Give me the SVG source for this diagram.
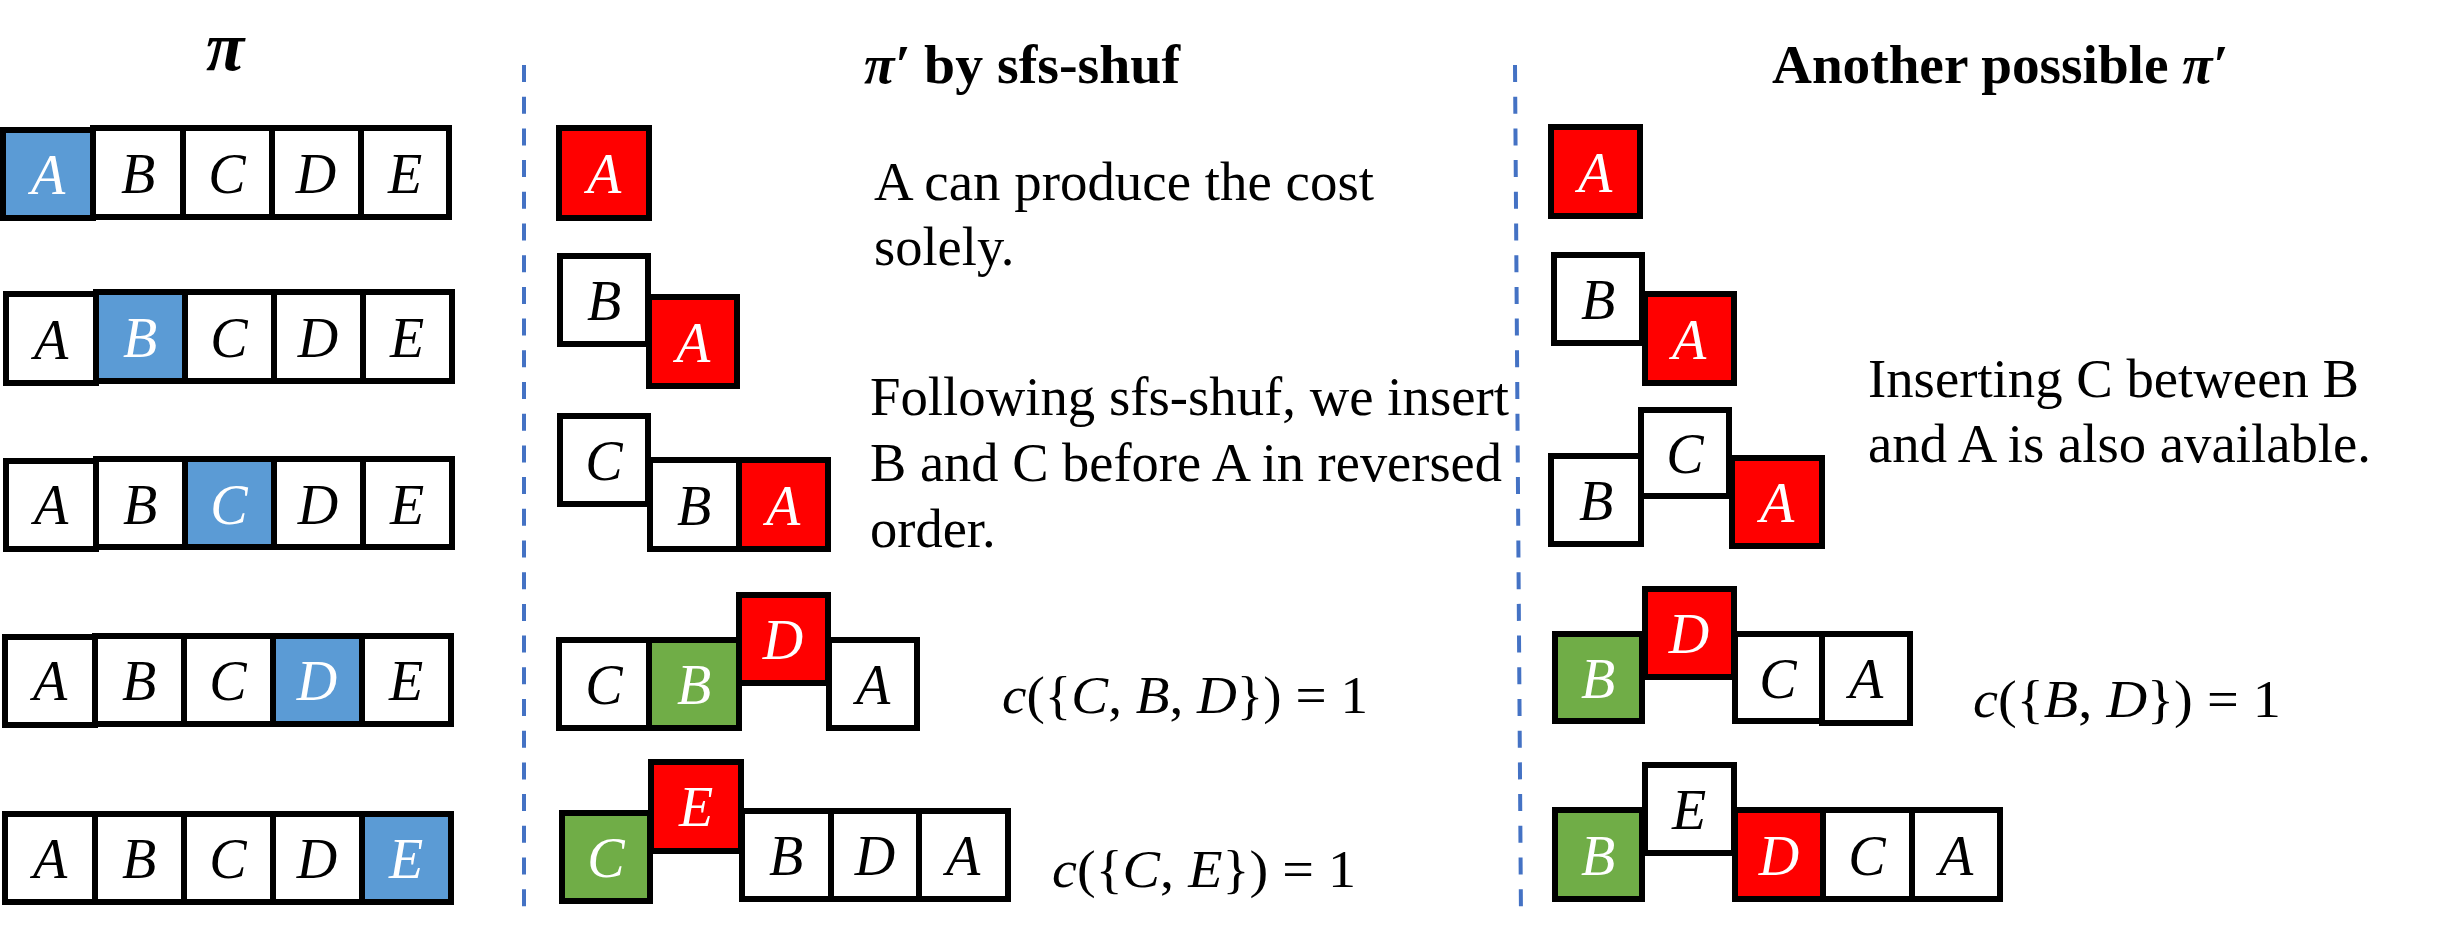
<svg xmlns="http://www.w3.org/2000/svg" width="2439" height="934" viewBox="0 0 2439 934">
<style>
.c{stroke:#000;stroke-width:6}
.w{fill:#fff}.r{fill:#ff0000}.g{fill:#70ad47}.b{fill:#5b9bd5}
.l{font-family:"Liberation Serif","DejaVu Serif",serif;font-style:italic;font-size:56px;text-anchor:middle}
.k{fill:#000}.wt{fill:#fff}
.t{font-family:"Liberation Serif","DejaVu Serif",serif;font-size:54.5px;fill:#000}
.h{font-family:"Liberation Serif","DejaVu Serif",serif;font-size:54px;font-weight:bold;fill:#000}
.f{font-family:"Liberation Serif","DejaVu Serif",serif;font-size:52px;fill:#000}
.i{font-style:italic}
.div{stroke:#4472c4;stroke-width:4;stroke-dasharray:17 14.7;fill:none}
</style>
<rect width="2439" height="934" fill="#fff"/>
<g id="dividers">
<line class="div" x1="524" y1="65" x2="524" y2="918"/>
<line class="div" x1="1515" y1="65" x2="1521" y2="918"/>
</g>
<g id="connectors"/>
<g id="titles">
<text class="h i" x="225" y="70" text-anchor="middle" style="font-size:70px">π</text>
<text class="h" x="864" y="83" textLength="316" lengthAdjust="spacingAndGlyphs"><tspan class="i">π′</tspan> by sfs-shuf</text>
<text class="h" x="1772" y="83" textLength="456" lengthAdjust="spacingAndGlyphs">Another possible <tspan class="i">π′</tspan></text>
</g>
<g id="notes">
<text class="t" x="874" y="200" textLength="500" lengthAdjust="spacingAndGlyphs">A can produce the cost</text>
<text class="t" x="874" y="265">solely.</text>
<text class="t" x="870" y="415" textLength="639" lengthAdjust="spacingAndGlyphs">Following sfs-shuf, we insert</text>
<text class="t" x="870" y="481" textLength="632" lengthAdjust="spacingAndGlyphs">B and C before A in reversed</text>
<text class="t" x="870" y="547">order.</text>
<text class="t" x="1868" y="397" textLength="491" lengthAdjust="spacingAndGlyphs">Inserting C between B</text>
<text class="t" x="1868" y="462" textLength="503" lengthAdjust="spacingAndGlyphs">and A is also available.</text>
<text class="f" x="1002" y="713" textLength="366" lengthAdjust="spacingAndGlyphs"><tspan class="i">c</tspan>({<tspan class="i">C</tspan>, <tspan class="i">B</tspan>, <tspan class="i">D</tspan>}) = 1</text>
<text class="f" x="1052" y="887" textLength="304" lengthAdjust="spacingAndGlyphs"><tspan class="i">c</tspan>({<tspan class="i">C</tspan>, <tspan class="i">E</tspan>}) = 1</text>
<text class="f" x="1973" y="717" textLength="308" lengthAdjust="spacingAndGlyphs"><tspan class="i">c</tspan>({<tspan class="i">B</tspan>, <tspan class="i">D</tspan>}) = 1</text>
</g>
<!-- Left column: pi -->
<g id="pi-row1">
<rect class="c w" x="93" y="128" width="90" height="89"/><text class="l k" x="138" y="193">B</text>
<rect class="c w" x="183" y="128" width="89" height="89"/><text class="l k" x="227" y="193">C</text>
<rect class="c w" x="272" y="128" width="89" height="89"/><text class="l k" x="316" y="193">D</text>
<rect class="c w" x="361" y="128" width="88" height="89"/><text class="l k" x="405" y="193">E</text>
<rect class="c b" x="3" y="130" width="90" height="88"/><text class="l wt" x="48" y="194">A</text>
</g>
<g id="pi-row2">
<rect class="c w" x="6" y="294" width="90" height="89"/><text class="l k" x="51" y="359">A</text>
<rect class="c b" x="96" y="292" width="89" height="89"/><text class="l wt" x="140" y="357">B</text>
<rect class="c w" x="185" y="292" width="89" height="89"/><text class="l k" x="229" y="357">C</text>
<rect class="c w" x="274" y="292" width="89" height="89"/><text class="l k" x="318" y="357">D</text>
<rect class="c w" x="363" y="292" width="89" height="89"/><text class="l k" x="407" y="357">E</text>
</g>
<g id="pi-row3">
<rect class="c w" x="6" y="461" width="90" height="88"/><text class="l k" x="51" y="524">A</text>
<rect class="c w" x="96" y="459" width="89" height="88"/><text class="l k" x="140" y="524">B</text>
<rect class="c b" x="185" y="459" width="89" height="88"/><text class="l wt" x="229" y="524">C</text>
<rect class="c w" x="274" y="459" width="89" height="88"/><text class="l k" x="318" y="524">D</text>
<rect class="c w" x="363" y="459" width="89" height="88"/><text class="l k" x="407" y="524">E</text>
</g>
<g id="pi-row4">
<rect class="c w" x="5" y="637" width="90" height="88"/><text class="l k" x="50" y="700">A</text>
<rect class="c w" x="95" y="636" width="89" height="88"/><text class="l k" x="139" y="700">B</text>
<rect class="c w" x="184" y="636" width="89" height="88"/><text class="l k" x="228" y="700">C</text>
<rect class="c b" x="273" y="636" width="89" height="88"/><text class="l wt" x="317" y="700">D</text>
<rect class="c w" x="362" y="636" width="89" height="88"/><text class="l k" x="406" y="700">E</text>
</g>
<g id="pi-row5">
<rect class="c w" x="5" y="814" width="90" height="88"/><text class="l k" x="50" y="878">A</text>
<rect class="c w" x="95" y="814" width="89" height="88"/><text class="l k" x="139" y="878">B</text>
<rect class="c w" x="184" y="814" width="89" height="88"/><text class="l k" x="228" y="878">C</text>
<rect class="c w" x="273" y="814" width="89" height="88"/><text class="l k" x="317" y="878">D</text>
<rect class="c b" x="362" y="814" width="89" height="88"/><text class="l wt" x="406" y="878">E</text>
</g>
<!-- Middle column -->
<g id="sfs-row1">
<rect class="c r" x="559" y="128" width="90" height="90"/><text class="l wt" x="604" y="193">A</text>
</g>
<g id="sfs-row2">
<rect class="c w" x="560" y="256" width="88" height="88"/><text class="l k" x="604" y="320">B</text>
<rect class="c r" x="649" y="297" width="88" height="89"/><text class="l wt" x="693" y="362">A</text>
</g>
<g id="sfs-row3">
<rect class="c w" x="560" y="416" width="88" height="88"/><text class="l k" x="604" y="480">C</text>
<rect class="c w" x="650" y="460" width="89" height="89"/><text class="l k" x="694" y="525">B</text>
<rect class="c r" x="739" y="460" width="89" height="89"/><text class="l wt" x="783" y="525">A</text>
</g>
<g id="sfs-row4">
<rect class="c w" x="559" y="640" width="90" height="88"/><text class="l k" x="604" y="704">C</text>
<rect class="c g" x="649" y="640" width="90" height="88"/><text class="l wt" x="694" y="704">B</text>
<rect class="c w" x="829" y="640" width="88" height="88"/><text class="l k" x="873" y="704">A</text>
<rect class="c r" x="739" y="595" width="89" height="88"/><text class="l wt" x="783" y="659">D</text>
</g>
<g id="sfs-row5">
<rect class="c g" x="562" y="813" width="88" height="88"/><text class="l wt" x="606" y="877">C</text>
<rect class="c w" x="742" y="811" width="89" height="88"/><text class="l k" x="786" y="875">B</text>
<rect class="c w" x="831" y="811" width="88" height="88"/><text class="l k" x="875" y="875">D</text>
<rect class="c w" x="919" y="811" width="89" height="88"/><text class="l k" x="963" y="875">A</text>
<rect class="c r" x="651" y="762" width="90" height="89"/><text class="l wt" x="696" y="826">E</text>
</g>
<!-- Right column -->
<g id="alt-row1">
<rect class="c r" x="1551" y="127" width="89" height="89"/><text class="l wt" x="1595" y="192">A</text>
</g>
<g id="alt-row2">
<rect class="c w" x="1554" y="255" width="88" height="88"/><text class="l k" x="1598" y="319">B</text>
<rect class="c r" x="1645" y="294" width="89" height="89"/><text class="l wt" x="1689" y="359">A</text>
</g>
<g id="alt-row3">
<rect class="c w" x="1641" y="410" width="88" height="86"/><text class="l k" x="1685" y="473">C</text>
<rect class="c w" x="1551" y="456" width="90" height="88"/><text class="l k" x="1596" y="520">B</text>
<rect class="c r" x="1732" y="458" width="90" height="88"/><text class="l wt" x="1777" y="522">A</text>
</g>
<g id="alt-row4">
<rect class="c g" x="1555" y="634" width="87" height="87"/><text class="l wt" x="1598" y="698">B</text>
<rect class="c w" x="1735" y="634" width="87" height="87"/><text class="l k" x="1778" y="698">C</text>
<rect class="c w" x="1822" y="634" width="88" height="89"/><text class="l k" x="1866" y="698">A</text>
<rect class="c r" x="1645" y="589" width="89" height="88"/><text class="l wt" x="1689" y="653">D</text>
</g>
<g id="alt-row5">
<rect class="c g" x="1555" y="810" width="87" height="89"/><text class="l wt" x="1598" y="875">B</text>
<rect class="c w" x="1645" y="765" width="89" height="88"/><text class="l k" x="1689" y="829">E</text>
<rect class="c r" x="1735" y="810" width="88" height="89"/><text class="l wt" x="1779" y="875">D</text>
<rect class="c w" x="1823" y="810" width="89" height="89"/><text class="l k" x="1867" y="875">C</text>
<rect class="c w" x="1912" y="810" width="88" height="89"/><text class="l k" x="1956" y="875">A</text>
</g>
</svg>
